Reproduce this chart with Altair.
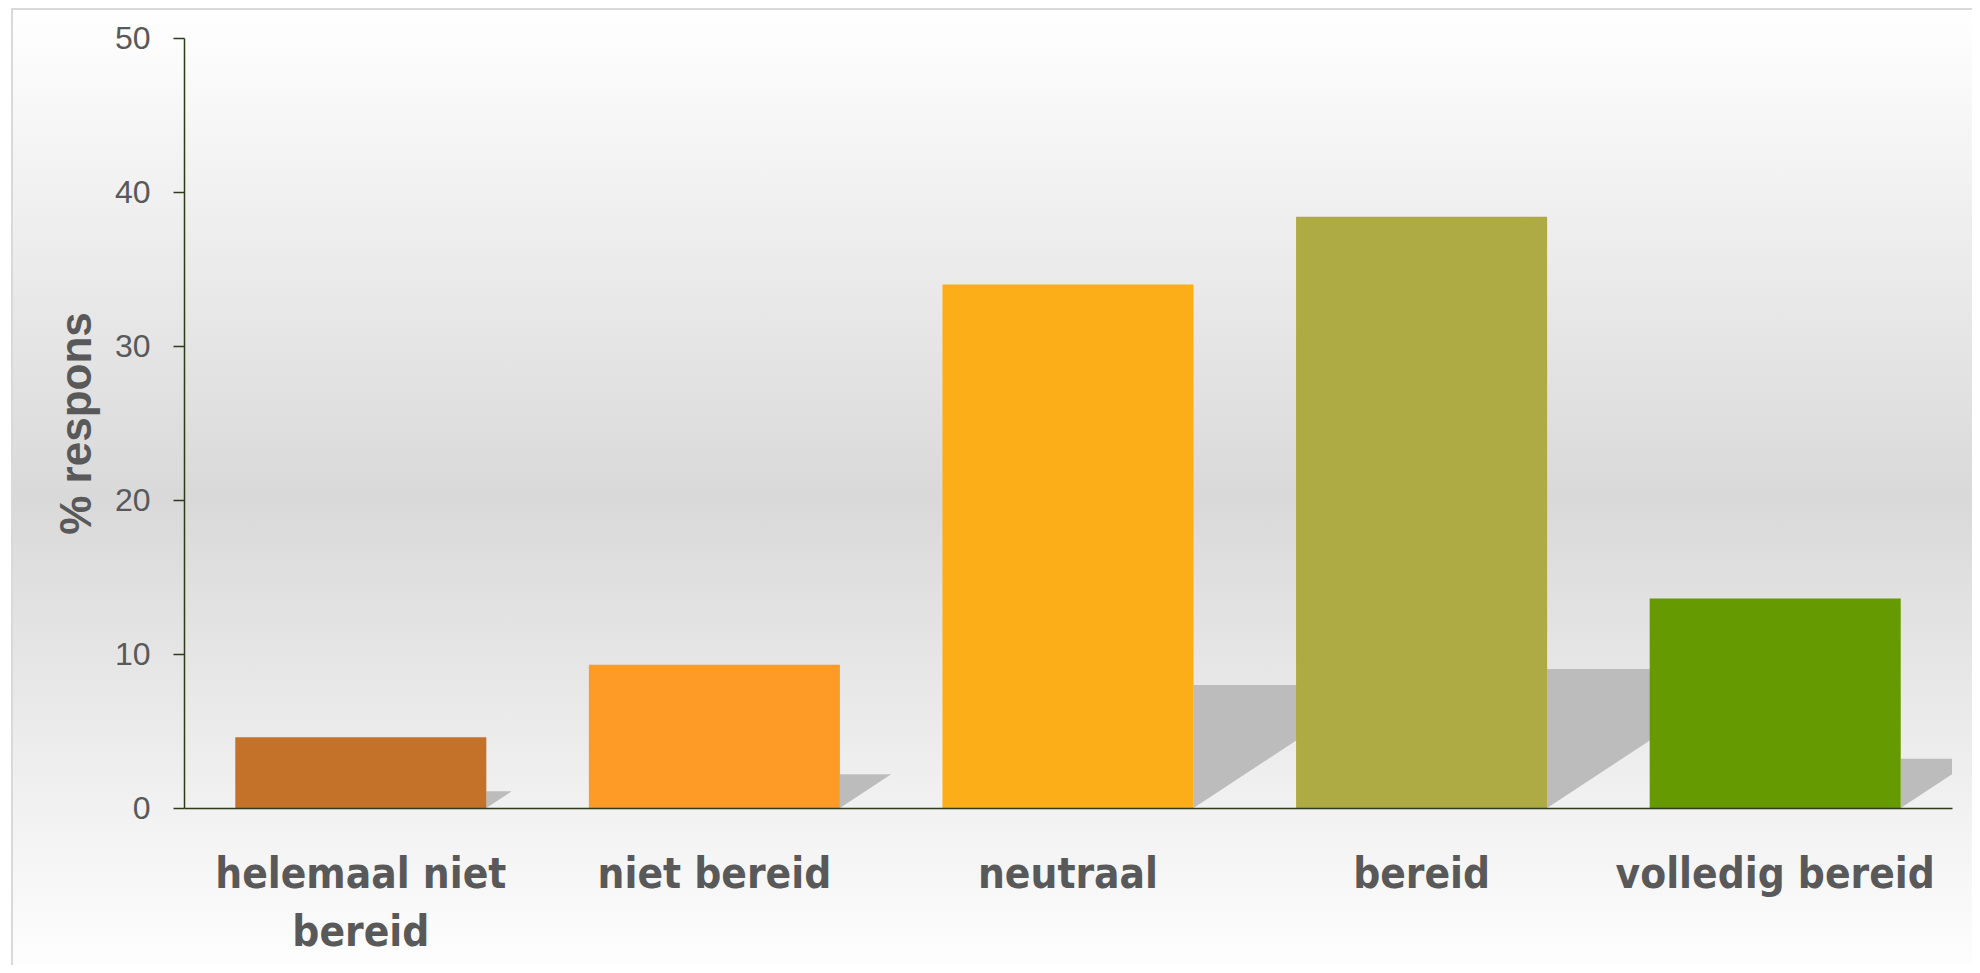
import altair as alt
import pandas as pd

categories = ["helemaal niet bereid", "niet bereid", "neutraal", "bereid", "volledig bereid"]
values = [4.6, 9.3, 34.0, 38.4, 13.6]
colors = ["#C47229", "#FE9A26", "#FBAE17", "#AFAB44", "#659A00"]
y_ticks = [0, 10, 20, 30, 40, 50]

W, H = 1768, 770
PAD = {"left": 176, "top": 30, "right": 20, "bottom": 157}
N = len(categories)

df = pd.DataFrame({
    "cat": categories,
    "value": values,
    "color": colors,
})

# perspective shadow triangles behind each bar, in data units
# (x: band index + fraction of a step, y: value units), clipped at the plot edge
sh_rows = []
for i, (c, v) in enumerate(zip(categories, values)):
    s = v * 0.235
    xa = i + 0.855
    xb = xa + v * 0.01556
    sh_rows.append({"cat": c, "xpos": xa, "ylow": 0.0, "yhigh": s})
    if xb > N:
        ycut = s * (N - xa) / (xb - xa)
        sh_rows.append({"cat": c, "xpos": float(N), "ylow": ycut, "yhigh": s})
    else:
        sh_rows.append({"cat": c, "xpos": xb, "ylow": s, "yhigh": s})
sh_df = pd.DataFrame(sh_rows)

bg_df = pd.DataFrame({"a": [0]})

y_axis = alt.Axis(
    title="% respons",
    values=y_ticks,
    grid=False,
    tickSize=11,
    tickColor="#2E3B1C",
    tickWidth=1.5,
    domainColor="#2E3B1C",
    domainWidth=1.5,
    labelPadding=23,
    labelFont="'Liberation Sans', Arial, sans-serif",
    labelFontSize=32,
    labelColor="#595959",
    titleFont="'Liberation Sans', Arial, sans-serif",
    titleFontSize=44,
    titleFontWeight="bold",
    titleColor="#595959",
    titleAngle=270,
    titleAlign="center",
    titleBaseline="alphabetic",
    titleX=-94,
    titleY=H / 2,
    zindex=2,
)
y_scale = alt.Scale(domain=[0, 50], nice=False)

background = alt.Chart(bg_df).mark_rect(
    fill={
        "gradient": "linear",
        "x1": 0, "y1": 0, "x2": 0, "y2": 1,
        "stops": [
            {"offset": 0, "color": "#ffffff"},
            {"offset": 0.5, "color": "#d9d9d9"},
            {"offset": 1, "color": "#ffffff"},
        ],
    },
    stroke="#d9d9d9",
    strokeWidth=2,
).encode(
    x=alt.value(-PAD["left"] + 4),
    x2=alt.value(W + PAD["right"] + 20),
    y=alt.value(-PAD["top"] + 1),
    y2=alt.value(H + PAD["bottom"] + 20),
)

shadows = alt.Chart(sh_df).mark_area(fill="#bcbcbc", opacity=1).encode(
    x=alt.X("xpos:Q", scale=alt.Scale(domain=[0, N], nice=False, zero=False), axis=None),
    y=alt.Y("ylow:Q", scale=y_scale, axis=y_axis),
    y2="yhigh:Q",
    detail="cat:N",
)

bars = alt.Chart(df).mark_bar().encode(
    x=alt.X(
        "cat:N",
        sort=categories,
        scale=alt.Scale(paddingInner=0.29, paddingOuter=0.145),
        axis=alt.Axis(
            title=None,
            labelAngle=0,
            ticks=False,
            tickSize=0,
            labelPadding=46,
            labelFont="'Liberation Sans Narrow', 'DejaVu Sans Condensed', sans-serif",
            labelFontWeight="bold",
            labelFontSize=42,
            labelColor="#595959",
            labelLineHeight=58,
            labelLimit=400,
            labelBaseline="top",
            labelExpr="datum.label == 'helemaal niet bereid' ? ['helemaal niet', 'bereid'] : datum.label",
            domainColor="#2E3B1C",
            domainWidth=1.5,
            zindex=2,
        ),
    ),
    y=alt.Y("value:Q", scale=y_scale, axis=y_axis),
    color=alt.Color("color:N", scale=None, legend=None),
)

chart = alt.layer(background, shadows, bars).resolve_scale(
    x="independent"
).properties(
    width=W,
    height=H,
    autosize=alt.AutoSizeParams(type="none"),
    padding=PAD,
    background="#ffffff",
).configure_view(stroke=None)

chart.save("out.html", embed_options={"renderer": "svg", "actions": False})
